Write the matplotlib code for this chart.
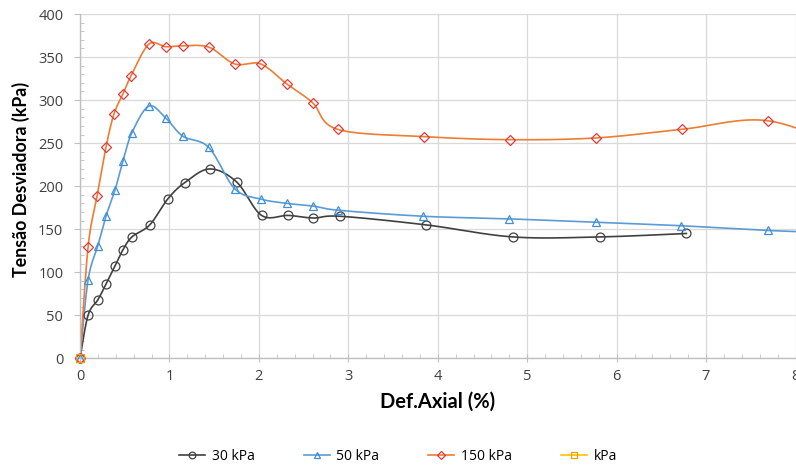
import matplotlib
matplotlib.use("Agg")
import matplotlib.pyplot as plt
from matplotlib.ticker import MultipleLocator
from matplotlib.lines import Line2D
import numpy as np

plt.rcParams['font.family'] = ['Open Sans', 'DejaVu Sans']

# data
x30 = [0, 0.09, 0.2, 0.29, 0.39, 0.48, 0.58, 0.78, 0.98, 1.17, 1.45, 1.75, 2.03, 2.33, 2.61, 2.91, 3.87, 4.84, 5.81, 6.78]
y30 = [0, 50, 68, 86, 107, 126, 141, 155, 185, 204, 220, 205, 166, 166, 163, 165, 155, 141, 141, 145]
x50 = [0, 0.09, 0.2, 0.29, 0.39, 0.48, 0.58, 0.77, 0.96, 1.15, 1.44, 1.73, 2.02, 2.31, 2.6, 2.89, 3.84, 4.8, 5.77, 6.72, 7.69, 8.66]
y50 = [0, 91, 131, 165, 195, 229, 262, 293, 279, 258, 245, 197, 185, 180, 177, 172, 165, 162, 158, 154, 148.5, 145]
x150 = [0, 0.09, 0.19, 0.29, 0.38, 0.48, 0.57, 0.77, 0.96, 1.15, 1.44, 1.73, 2.02, 2.31, 2.6, 2.88, 3.85, 4.81, 5.77, 6.73, 7.69, 8.66]
y150 = [0, 129, 188, 245, 284, 307, 328, 365, 362, 363, 361.5, 342, 342, 319, 297, 266, 257.5, 254, 256, 266, 276, 240]
xk = [0]
yk = [0]

XMAX = 8


def smooth(x, y, n=30):
    # excel-like smoothed line (catmull-rom as cubic bezier)
    p = np.column_stack([x, y]).astype(float)
    if len(p) < 2:
        return p[:, 0], p[:, 1]
    p = np.vstack([p[0], p, p[-1]])
    t = np.linspace(0, 1, n, endpoint=False)[:, None]
    out = []
    for i in range(1, len(p) - 2):
        p0, p1, p2, p3 = p[i - 1], p[i], p[i + 1], p[i + 2]
        c1 = p1 + (p2 - p0) / 6
        c2 = p2 - (p3 - p1) / 6
        out.append((1 - t) ** 3 * p1 + 3 * (1 - t) ** 2 * t * c1 + 3 * (1 - t) * t ** 2 * c2 + t ** 3 * p2)
    out.append(p[-2][None])
    a = np.vstack(out)
    return a[:, 0], a[:, 1]


fig = plt.figure(figsize=(7.96, 4.70), dpi=100)
ax = fig.add_axes([80 / 796, (470 - 358.3) / 470, 715.5 / 796, 344.3 / 470])

series = [
    (x30, y30, "30 kPa", "#404040", "#404040", "o"),
    (x50, y50, "50 kPa", "#5b9bd5", "#3f8fd8", "^"),
    (x150, y150, "150 kPa", "#ed7d31", "#e0393c", "D"),
    (xk, yk, "kPa", "#ffc000", "#f0a000", "s"),
]
handles = []
for xs, ys, lab, lc, mc, mk in series:
    sx, sy = smooth(xs, ys)
    ms = 5.4 if mk == "D" else 6.4
    ax.plot(sx, sy, color=lc, lw=1.2, zorder=2)
    xa, ya = np.array(xs), np.array(ys)
    keep = xa <= XMAX
    ax.plot(xa[keep], ya[keep], ls="none", marker=mk, ms=ms, mfc="none", mec=mc, mew=0.9,
            clip_on=False, zorder=3)
    handles.append(Line2D([], [], color=lc, lw=1.2, marker=mk, ms=ms * 0.75, mfc="none", mec=mc,
                          mew=0.9, label=lab))

ax.set_xlim(0, XMAX)
ax.set_ylim(0, 400)
ax.xaxis.set_major_locator(MultipleLocator(1))
ax.xaxis.set_minor_locator(MultipleLocator(0.2))
ax.yaxis.set_major_locator(MultipleLocator(50))
ax.yaxis.set_minor_locator(MultipleLocator(10))
ax.grid(which="major", color="#d9d9d9", lw=0.9)
ax.set_axisbelow(True)
for s in ["top", "right"]:
    ax.spines[s].set_visible(False)
for s in ["left", "bottom"]:
    ax.spines[s].set_color("#bfbfbf")
    ax.spines[s].set_linewidth(1.0)
ax.tick_params(axis="x", which="major", direction="inout", length=6, color="#bfbfbf", labelsize=10.5, labelcolor="#404040", pad=5)
ax.tick_params(axis="x", which="minor", direction="in", length=3, color="#bfbfbf")
ax.tick_params(axis="y", which="major", direction="out", length=4, color="#bfbfbf", labelsize=10.5, labelcolor="#404040", pad=8)
ax.tick_params(axis="y", which="minor", direction="in", length=3, color="#bfbfbf")

ax.set_xlabel("Def.Axial (%)", fontsize=14.5, fontweight="bold", family=["Lato", "DejaVu Sans"], labelpad=5)
ax.set_ylabel("Tensão Desviadora (kPa)", fontsize=12.8, fontweight="bold", family=["Lato", "DejaVu Sans"])
ax.yaxis.set_label_coords(-0.07, 0.52)

fig.legend(handles=handles, loc="center", bbox_to_anchor=(0.5, 0.028), ncol=4, frameon=False, fontsize=10,
           handlelength=1.87, handletextpad=0.5, columnspacing=3.5, numpoints=1)

plt.savefig("out.png", dpi=100, facecolor="white")
print("saved")
